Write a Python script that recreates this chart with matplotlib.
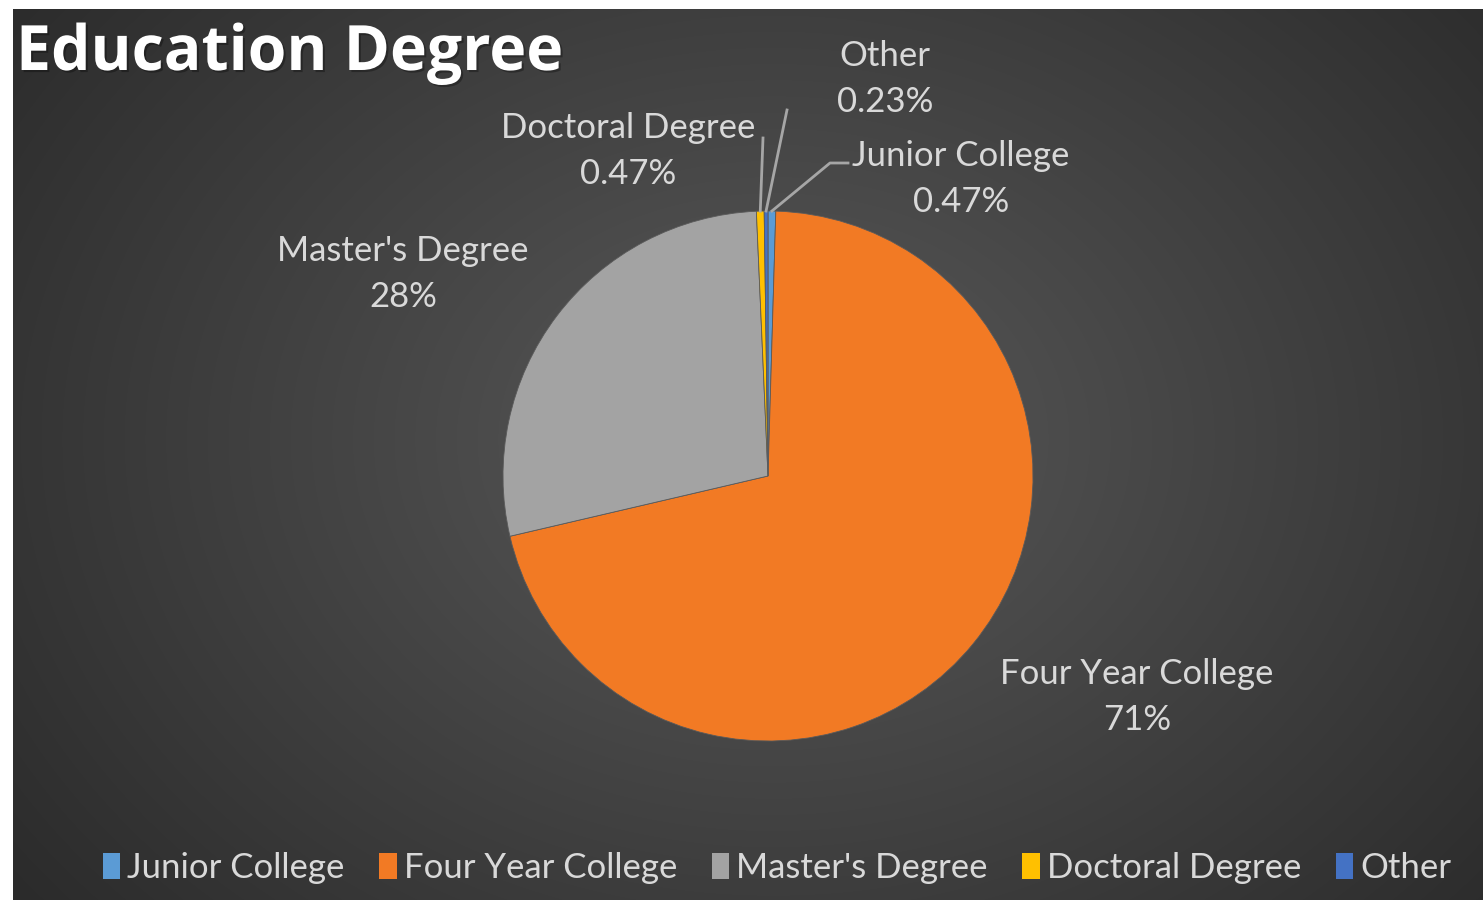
import matplotlib
matplotlib.use("Agg")
import matplotlib.pyplot as plt
from matplotlib.patches import Patch
import matplotlib.patheffects as pe
import numpy as np

# data
labels = ["Junior College", "Four Year College", "Master's Degree", "Doctoral Degree", "Other"]
values = [0.47, 71, 28, 0.47, 0.23]
pct_text = ["0.47%", "71%", "28%", "0.47%", "0.23%"]
colors = ["#5B9BD5", "#F27A24", "#A3A3A3", "#FFC000", "#4472C4"]

W, H = 1483, 900
fig = plt.figure(figsize=(W / 100, H / 100), dpi=100, facecolor="white")
ax = fig.add_axes([0, 0, 1, 1])
ax.set_xlim(0, W)
ax.set_ylim(0, H)
ax.axis("off")

# radial gradient background
yy, xx = np.mgrid[0:H - 9, 0:W - 13]
cx, cy = 760, 430
d = np.sqrt(((xx - cx) / 900.0) ** 2 + ((yy - cy) / 700.0) ** 2)
g = np.clip(0.35 - 0.17 * d, 0.17, 0.35)
ax.imshow(np.dstack([g, g, g]), extent=(13, W, 0, H - 9), origin="upper",
          aspect="auto", zorder=0, interpolation="bilinear")

center = (768, H - 476)
radius = 265
wedges, _ = ax.pie(values, colors=colors, startangle=90, counterclock=False,
                   center=center, radius=radius, frame=True,
                   wedgeprops=dict(linewidth=0.6, edgecolor="#5a5a5a"))
for w in wedges:
    w.set_zorder(2)
ax.set_xlim(0, W)
ax.set_ylim(0, H)
ax.set_aspect("equal")
ax.axis("off")

txt = "#D9D9D9"
font = "Lato"
fs = 25

# label positions (pixel, top-left origin): centre of first line
label_pos = {
    0: (961, 153),
    1: (1137, 671),
    2: (403, 248),
    3: (628, 125),
    4: (885, 53),
}
for i, (x, y) in label_pos.items():
    ax.text(x, H - y, labels[i], ha="center", va="center_baseline",
            color=txt, fontsize=fs, family=font, zorder=5)
    ax.text(x, H - y - 46, pct_text[i], ha="center", va="center_baseline",
            color=txt, fontsize=fs, family=font, zorder=5)

# leader lines for the tiny slices
def edge_point(i):
    w = wedges[i]
    ang = np.deg2rad((w.theta1 + w.theta2) / 2)
    return center[0] + radius * np.cos(ang), center[1] + radius * np.sin(ang)

lead = {
    0: [(830, 163), (848, 163)],
    3: [(763, 138)],
    4: [(787, 110)],
}
for i, pts in lead.items():
    x0, y0 = edge_point(i)
    xs = [x0] + [p[0] for p in pts]
    ys = [y0] + [H - p[1] for p in pts]
    ax.plot(xs, ys, color="#A6A6A6", lw=2, zorder=4)

fig.text(16 / W, 1 - 70 / H, "Education Degree", color="white", fontsize=45,
         family="Open Sans", weight="bold", va="baseline", ha="left",
         path_effects=[pe.withSimplePatchShadow(offset=(1.5, -1.5), shadow_rgbFace="black", alpha=0.3)])

handles = [Patch(facecolor=c, edgecolor="none") for c in colors]
leg = fig.legend(handles, labels, loc="center", bbox_to_anchor=(777 / W, 1 - 868 / H),
                 ncol=5, frameon=False, labelcolor=txt,
                 handlelength=0.5, handleheight=0.75, handletextpad=0.2,
                 columnspacing=1.0, prop=dict(family=font, size=fs))

fig.savefig("out.png", dpi=100, facecolor="white")
